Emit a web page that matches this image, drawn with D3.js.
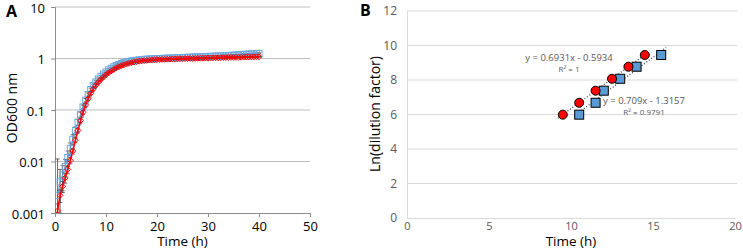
<!DOCTYPE html>
<html>
<head>
<meta charset="utf-8">
<script src="https://cdn.jsdelivr.net/npm/d3@7"></script>
<style>
  body { margin: 0; background: #fff; }
  svg text { font-family: "Open Sans", sans-serif; }
</style>
</head>
<body>
<div id="chart"></div>
<script>
// panel A: growth curves (OD600, log scale)
var times = [0.5, 1, 1.5, 2, 2.5, 3, 3.5, 4, 4.5, 5, 5.5, 6, 6.5, 7, 7.5, 8, 8.5, 9, 9.5, 10,
    10.5, 11, 11.5, 12, 12.5, 13, 13.5, 14, 14.5, 15, 15.5, 16, 16.5, 17, 17.5, 18, 18.5, 19, 19.5, 20,
    20.5, 21, 21.5, 22, 22.5, 23, 23.5, 24, 24.5, 25, 25.5, 26, 26.5, 27, 27.5, 28, 28.5, 29, 29.5, 30,
    30.5, 31, 31.5, 32, 32.5, 33, 33.5, 34, 34.5, 35, 35.5, 36, 36.5, 37, 37.5, 38, 38.5, 39, 39.5, 40];

var blueOD = [0.0022, 0.004, 0.0055, 0.008, 0.012, 0.018, 0.027, 0.04, 0.058, 0.082, 0.115, 0.155, 0.2, 0.25, 0.3, 0.35, 0.4, 0.45, 0.5, 0.55,
    0.6, 0.645, 0.69, 0.73, 0.765, 0.8, 0.83, 0.855, 0.875, 0.895, 0.91, 0.925, 0.94, 0.95, 0.96, 0.97, 0.978, 0.985, 0.992, 0.998,
    1.0, 1.005, 1.01, 1.015, 1.02, 1.025, 1.03, 1.035, 1.04, 1.045, 1.05, 1.055, 1.06, 1.065, 1.07, 1.075, 1.08, 1.085, 1.09, 1.095,
    1.1, 1.105, 1.11, 1.115, 1.12, 1.13, 1.135, 1.14, 1.15, 1.16, 1.17, 1.18, 1.19, 1.2, 1.21, 1.22, 1.23, 1.24, 1.25, 1.26];

var blueSD = [0.009, 0.003, 0.0028, 0.003, 0.004, 0.005, 0.006, 0.007, 0.008, 0.009, 0.01, 0.012, 0.014, 0.016, 0.018, 0.02, 0.02, 0.022, 0.022, 0.024,
    0.025, 0.026, 0.027, 0.028, 0.028, 0.029, 0.03, 0.03, 0.03, 0.03, 0.03, 0.03, 0.03, 0.03, 0.03, 0.03, 0.03, 0.03, 0.03, 0.03,
    0.03, 0.03, 0.03, 0.03, 0.03, 0.03, 0.03, 0.03, 0.03, 0.03, 0.03, 0.03, 0.03, 0.03, 0.03, 0.03, 0.03, 0.03, 0.03, 0.03,
    0.03, 0.03, 0.03, 0.03, 0.03, 0.03, 0.03, 0.03, 0.03, 0.03, 0.03, 0.03, 0.03, 0.03, 0.03, 0.03, 0.03, 0.03, 0.03, 0.03];

var redOD = [0.0011, 0.0022, 0.0033, 0.0048, 0.007, 0.0105, 0.016, 0.026, 0.04, 0.062, 0.09, 0.125, 0.165, 0.21, 0.255, 0.3, 0.345, 0.39, 0.435, 0.48,
    0.525, 0.57, 0.61, 0.65, 0.685, 0.72, 0.75, 0.78, 0.805, 0.83, 0.85, 0.87, 0.885, 0.9, 0.91, 0.92, 0.93, 0.938, 0.945, 0.952,
    0.957, 0.962, 0.966, 0.97, 0.974, 0.978, 0.981, 0.984, 0.987, 0.99, 0.993, 0.996, 0.999, 1.002, 1.005, 1.008, 1.011, 1.014, 1.017, 1.02,
    1.023, 1.026, 1.029, 1.032, 1.035, 1.038, 1.041, 1.044, 1.047, 1.05, 1.053, 1.056, 1.059, 1.062, 1.065, 1.068, 1.071, 1.074, 1.077, 1.08];

var redSD = [0.0004, 0.0006, 0.0008, 0.001, 0.0012, 0.0015, 0.002, 0.003, 0.004, 0.006, 0.008, 0.01, 0.012, 0.014, 0.016, 0.018, 0.02, 0.02, 0.02, 0.02,
    0.02, 0.02, 0.02, 0.02, 0.02, 0.02, 0.02, 0.02, 0.02, 0.02, 0.02, 0.02, 0.02, 0.02, 0.02, 0.02, 0.02, 0.02, 0.02, 0.02,
    0.02, 0.02, 0.02, 0.02, 0.02, 0.02, 0.02, 0.02, 0.02, 0.02, 0.02, 0.02, 0.02, 0.02, 0.02, 0.02, 0.02, 0.02, 0.02, 0.02,
    0.02, 0.02, 0.02, 0.02, 0.02, 0.02, 0.02, 0.02, 0.02, 0.02, 0.02, 0.02, 0.02, 0.02, 0.02, 0.02, 0.02, 0.02, 0.02, 0.02];

var aYTicks = [0.001, 0.01, 0.1, 1, 10];
var aYTickLabels = ['0.001', '0.01', '0.1', '1', '10'];
var aXTicks = [0, 10, 20, 30, 40, 50];

// panel B: dilution factor vs time
var redTime = [9.5, 10.5, 11.5, 12.5, 13.5, 14.5];
var redLn = [5.99, 6.68, 7.38, 8.07, 8.77, 9.45];
var blueTime = [10.5, 11.5, 12, 13, 14, 15.5];
var blueLn = [5.99, 6.68, 7.38, 8.07, 8.77, 9.45];
var fitSlope = [0.6931, 0.709];
var fitIntercept = [-0.5934, -1.3157];
var fitLabels = ['y = 0.6931x - 0.5934', 'y = 0.709x - 1.3157'];
var r2Labels = ['R² = 1', 'R² = 0.9791'];
var bXTicks = [0, 5, 10, 15, 20];
var bYTicks = [0, 2, 4, 6, 8, 10, 12];

var width = 743, height = 252;

var svg = d3.select('#chart')
    .append('svg')
    .attr('width', width)
    .attr('height', height);

// ---------- panel A ----------
var ax = d3.scaleLinear().domain([0, 50]).range([55, 310]);
var ay = d3.scaleLog().domain([0.001, 10]).range([213, 7]);

var gA = svg.append('g');

gA.selectAll('.gridA')
    .data(aYTicks.slice(1))
    .enter()
    .append('line')
    .attr('x1', ax(0)).attr('x2', ax(50))
    .attr('y1', function(d) { return ay(d); })
    .attr('y2', function(d) { return ay(d); })
    .attr('stroke', '#bfbfbf')
    .attr('stroke-width', 1);

var axisA_y = gA.append('g')
    .attr('transform', 'translate(' + ax(0) + ',0)')
    .call(d3.axisLeft(ay).tickValues(aYTicks)
        .tickFormat(function(d, i) { return aYTickLabels[i]; })
        .tickSize(4).tickPadding(6));

var axisA_x = gA.append('g')
    .attr('transform', 'translate(0,' + ay(0.001) + ')')
    .call(d3.axisBottom(ax).tickValues(aXTicks).tickSize(4).tickPadding(5));

[axisA_y, axisA_x].forEach(function(a) {
    a.select('.domain').attr('stroke', '#8c8c8c');
    a.selectAll('.tick line').attr('stroke', '#8c8c8c');
    a.selectAll('text').attr('font-size', 13).attr('fill', '#000');
});
axisA_y.selectAll('text').attr('dy', '0.4em');

svg.append('clipPath').attr('id', 'clipA')
    .append('rect')
    .attr('x', ax(0)).attr('y', 0)
    .attr('width', ax(50) - ax(0)).attr('height', ay(0.001));

var plotA = gA.append('g').attr('clip-path', 'url(#clipA)');

var blueData = times.map(function(t, i) { return { t: t, v: blueOD[i], sd: blueSD[i] }; });
var redData = times.map(function(t, i) { return { t: t, v: redOD[i], sd: redSD[i] }; });

// error bars
function errBars(data, cls) {
    function lo(d) { return d.v - d.sd > 0.0001 ? ay(d.v - d.sd) : ay(0.0005); }
    var g = plotA.selectAll('.' + cls)
        .data(data)
        .enter()
        .append('g')
        .attr('stroke', '#404040')
        .attr('stroke-width', 0.8);
    g.append('line')
        .attr('x1', function(d) { return ax(d.t); })
        .attr('x2', function(d) { return ax(d.t); })
        .attr('y1', function(d) { return ay(d.v + d.sd); })
        .attr('y2', lo);
    g.append('line')
        .attr('x1', function(d) { return ax(d.t) - 2; })
        .attr('x2', function(d) { return ax(d.t) + 2; })
        .attr('y1', function(d) { return ay(d.v + d.sd); })
        .attr('y2', function(d) { return ay(d.v + d.sd); });
    g.append('line')
        .attr('x1', function(d) { return ax(d.t) - 2; })
        .attr('x2', function(d) { return ax(d.t) + 2; })
        .attr('y1', lo)
        .attr('y2', lo);
}
errBars(blueData, 'eb');

// blue thin line + open squares
plotA.append('path')
    .datum(blueData)
    .attr('fill', 'none')
    .attr('stroke', '#5b9bd5')
    .attr('stroke-width', 1)
    .attr('d', d3.line().x(function(d) { return ax(d.t); }).y(function(d) { return ay(d.v); }));

plotA.selectAll('.bsq')
    .data(blueData)
    .enter()
    .append('rect')
    .attr('x', function(d) { return ax(d.t) - 3; })
    .attr('y', function(d) { return ay(d.v) - 3; })
    .attr('width', 6).attr('height', 6)
    .attr('fill', 'none')
    .attr('stroke', '#6aa6dc')
    .attr('stroke-width', 1);

errBars(redData, 'er');

// red diamonds + line
plotA.selectAll('.rdm')
    .data(redData)
    .enter()
    .append('path')
    .attr('d', d3.symbol().type(d3.symbolDiamond2).size(22))
    .attr('transform', function(d) { return 'translate(' + ax(d.t) + ',' + ay(d.v) + ')'; })
    .attr('fill', 'none')
    .attr('stroke', '#ff0000')
    .attr('stroke-width', 1);

plotA.append('path')
    .datum([{ t: 0.2, v: 0.0006 }].concat(redData))
    .attr('fill', 'none')
    .attr('stroke', '#ff0000')
    .attr('stroke-width', 1.5)
    .attr('d', d3.line().x(function(d) { return ax(d.t); }).y(function(d) { return ay(d.v); }));

gA.append('text')
    .text('OD600 nm')
    .attr('transform', 'translate(17,108) rotate(-90)')
    .attr('text-anchor', 'middle')
    .attr('font-size', 14);

gA.append('text')
    .text('Time (h)')
    .attr('x', ax(25)).attr('y', 246)
    .attr('text-anchor', 'middle')
    .attr('font-size', 13.5);

gA.append('text')
    .text('A')
    .attr('x', 6).attr('y', 17)
    .attr('font-size', 16)
    .attr('font-weight', 'bold');

// ---------- panel B ----------
var bx = d3.scaleLinear().domain([0, 20]).range([407, 735]);
var by = d3.scaleLinear().domain([0, 12]).range([218, 11]);

var gB = svg.append('g');

gB.selectAll('.gridB')
    .data(bYTicks.slice(1))
    .enter()
    .append('line')
    .attr('x1', bx(0)).attr('x2', bx(20) + 2)
    .attr('y1', function(d) { return by(d); })
    .attr('y2', function(d) { return by(d); })
    .attr('stroke', '#d9d9d9')
    .attr('stroke-width', 1);

var axisB_y = gB.append('g')
    .attr('transform', 'translate(' + bx(0) + ',0)')
    .call(d3.axisLeft(by).tickValues(bYTicks).tickSize(0).tickPadding(10));

var axisB_x = gB.append('g')
    .attr('transform', 'translate(0,' + by(0) + ')')
    .call(d3.axisBottom(bx).tickValues(bXTicks).tickSize(0).tickPadding(4));

[axisB_y, axisB_x].forEach(function(a) {
    a.select('.domain').attr('stroke', '#d9d9d9');
    a.selectAll('text').attr('font-size', 12).attr('fill', '#595959');
});
axisB_x.selectAll('text').attr('font-size', 11);

// trend lines
var fits = [
    { m: fitSlope[0], b: fitIntercept[0], x0: d3.min(redTime) - 0.3, x1: d3.max(redTime) + 0.3 },
    { m: fitSlope[1], b: fitIntercept[1], x0: d3.min(blueTime) - 0.3, x1: d3.max(blueTime) + 0.3 }
];
gB.selectAll('.fit')
    .data(fits)
    .enter()
    .append('line')
    .attr('x1', function(d) { return bx(d.x0); })
    .attr('x2', function(d) { return bx(d.x1); })
    .attr('y1', function(d) { return by(d.m * d.x0 + d.b); })
    .attr('y2', function(d) { return by(d.m * d.x1 + d.b); })
    .attr('stroke', '#404040')
    .attr('stroke-width', 1.3)
    .attr('stroke-dasharray', '1,2');

gB.selectAll('.bsqB')
    .data(blueTime)
    .enter()
    .append('rect')
    .attr('x', function(d) { return bx(d) - 4.5; })
    .attr('y', function(d, i) { return by(blueLn[i]) - 4.5; })
    .attr('width', 9).attr('height', 9)
    .attr('fill', '#5b9bd5')
    .attr('stroke', '#000')
    .attr('stroke-width', 1);

gB.selectAll('.rcB')
    .data(redTime)
    .enter()
    .append('circle')
    .attr('cx', function(d) { return bx(d); })
    .attr('cy', function(d, i) { return by(redLn[i]); })
    .attr('r', 4.5)
    .attr('fill', '#ff0000')
    .attr('stroke', '#000')
    .attr('stroke-width', 1);

// fit labels
var labelPos = [[569, 61], [644, 104]];
gB.selectAll('.fitLabel')
    .data(fitLabels)
    .enter()
    .append('text')
    .text(function(d) { return d; })
    .attr('x', function(d, i) { return labelPos[i][0]; })
    .attr('y', function(d, i) { return labelPos[i][1]; })
    .attr('text-anchor', 'middle')
    .attr('font-size', 9.5)
    .attr('fill', '#595959');

gB.selectAll('.r2Label')
    .data(r2Labels)
    .enter()
    .append('text')
    .text(function(d) { return d; })
    .attr('x', function(d, i) { return labelPos[i][0]; })
    .attr('y', function(d, i) { return labelPos[i][1] + 11; })
    .attr('text-anchor', 'middle')
    .attr('font-size', 8)
    .attr('fill', '#595959');

gB.append('text')
    .text('Ln(dilution factor)')
    .attr('transform', 'translate(380,114) rotate(-90)')
    .attr('text-anchor', 'middle')
    .attr('font-size', 14);

gB.append('text')
    .text('Time (h)')
    .attr('x', bx(10)).attr('y', 246)
    .attr('text-anchor', 'middle')
    .attr('font-size', 13.5);

gB.append('text')
    .text('B')
    .attr('x', 360).attr('y', 16)
    .attr('font-size', 16)
    .attr('font-weight', 'bold');
</script>
</body>
</html>
